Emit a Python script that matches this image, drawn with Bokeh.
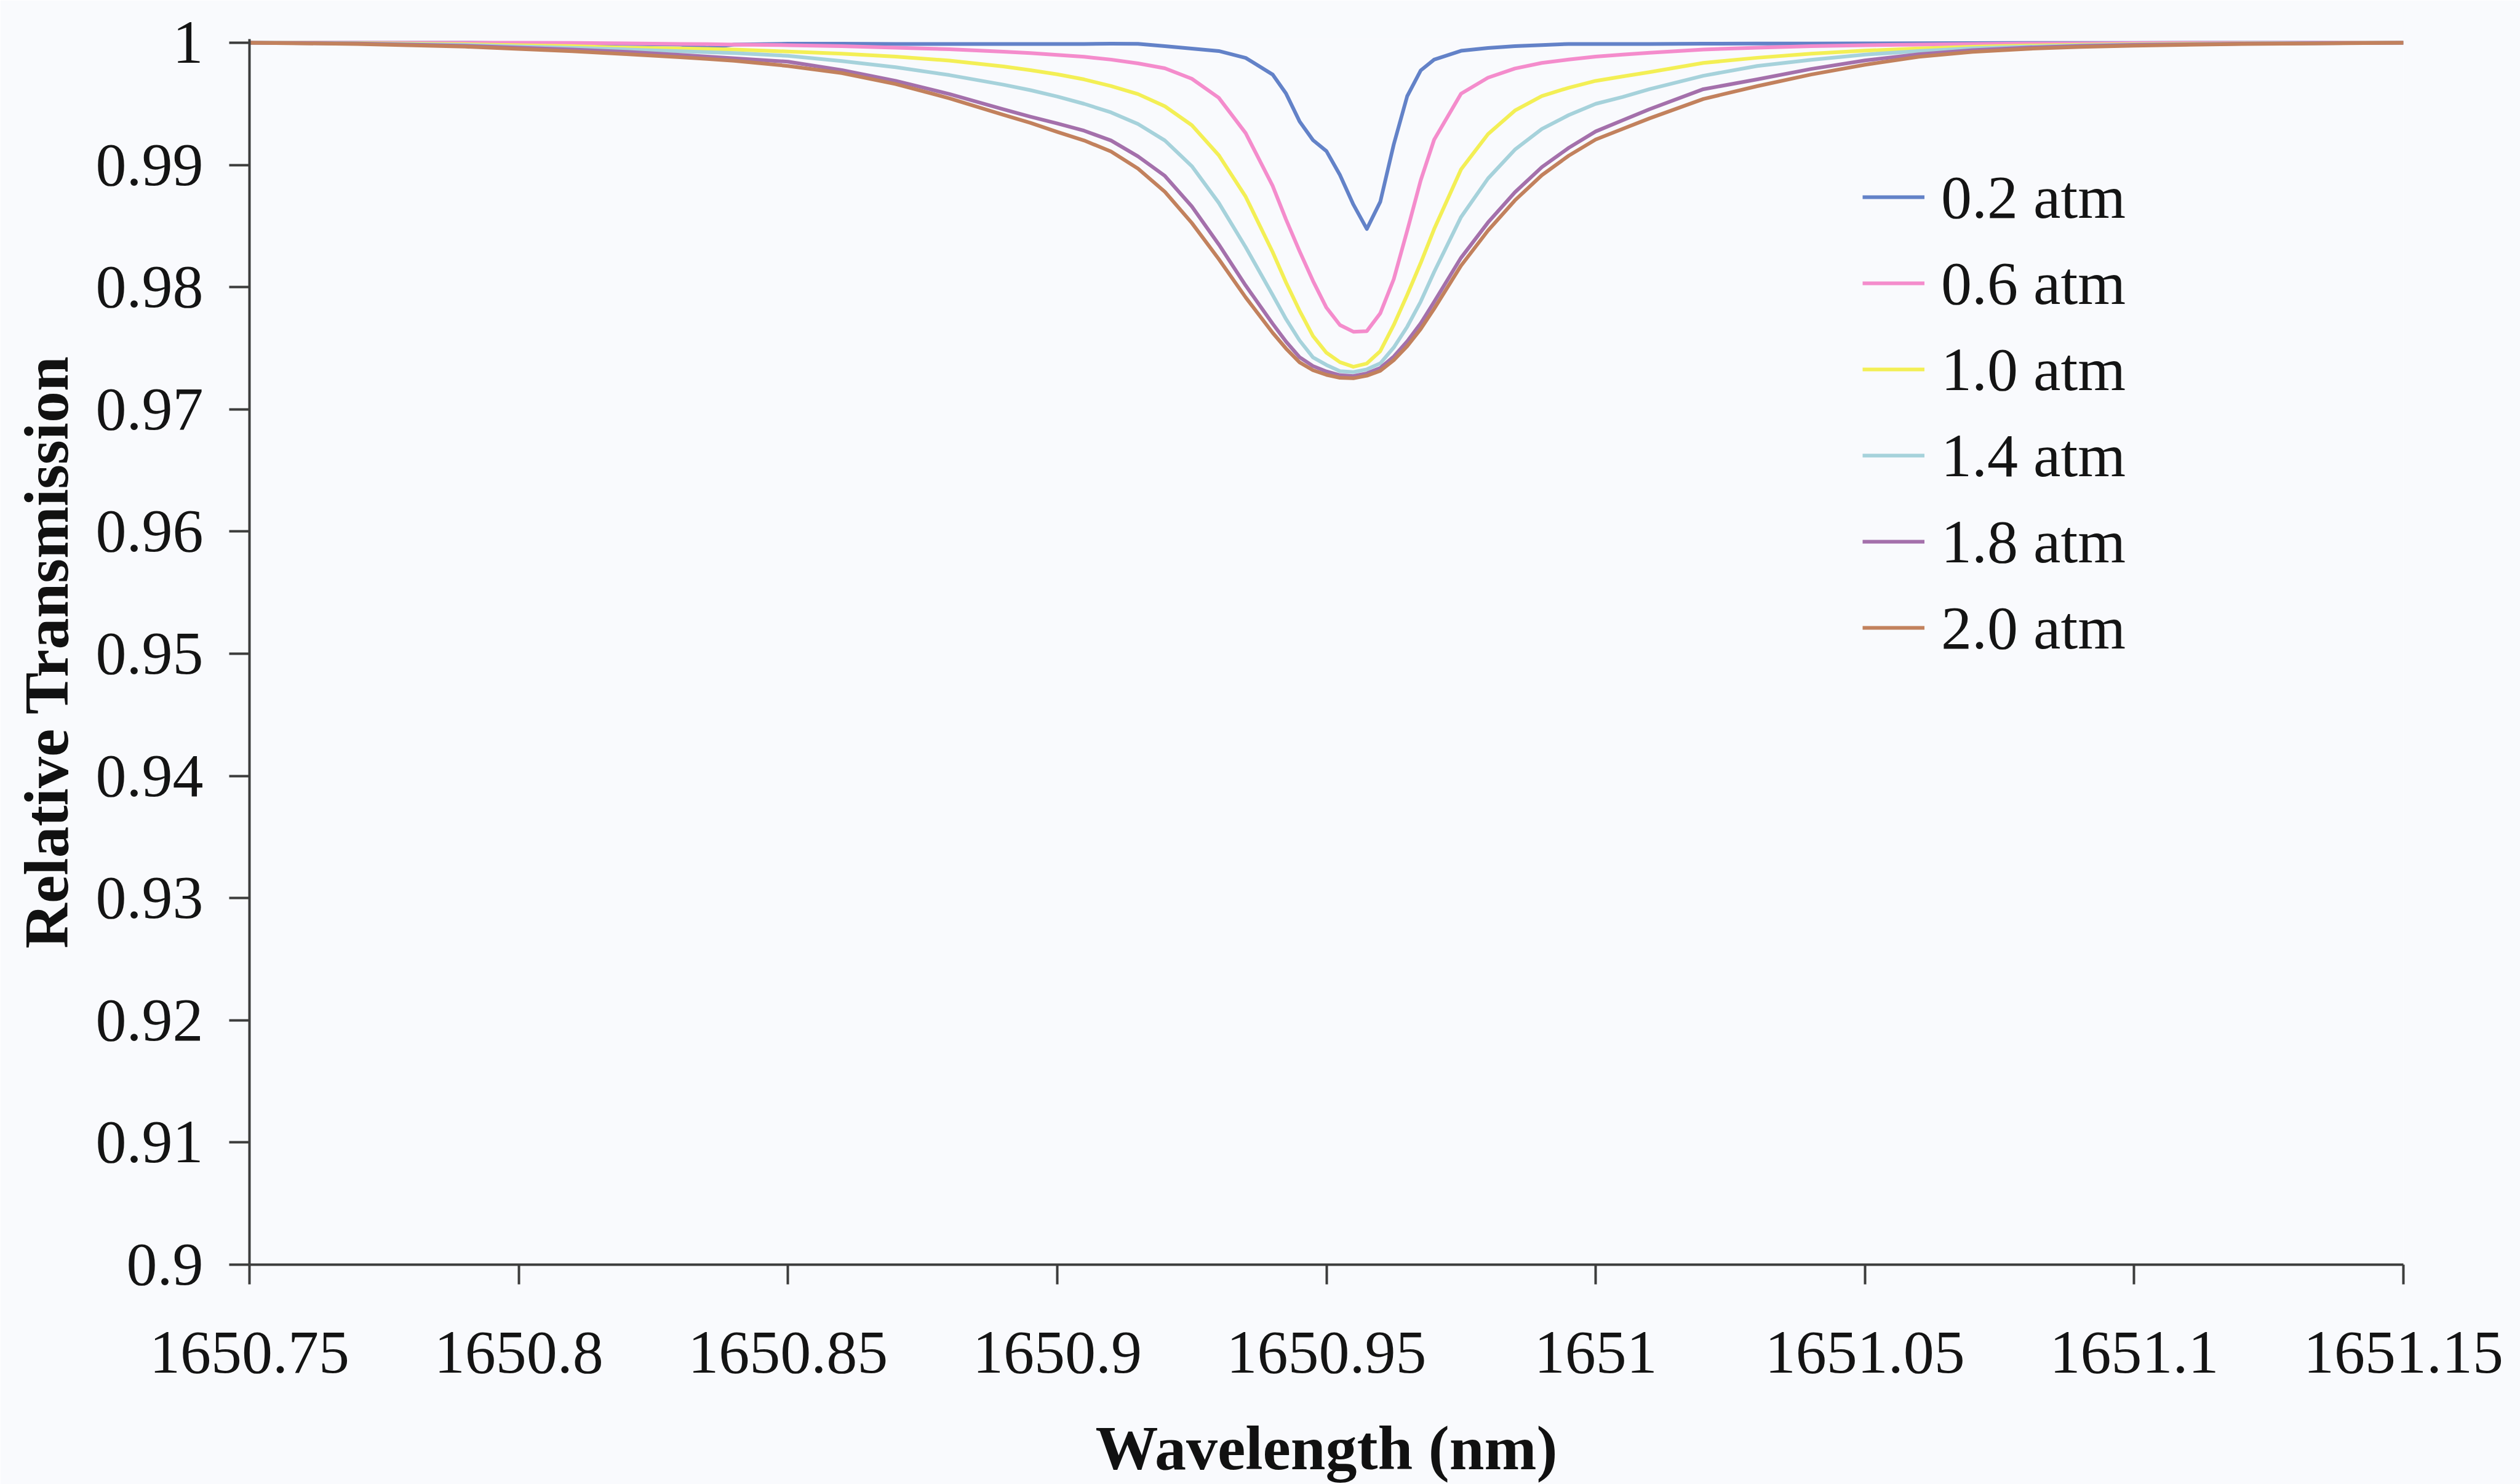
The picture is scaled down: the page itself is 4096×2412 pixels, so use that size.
from bokeh.plotting import figure
from bokeh.models import Range1d, FixedTicker, Legend, LegendItem
from bokeh.embed import file_html
from bokeh.resources import INLINE

# ---------------- data ----------------
WAVELENGTH = [1650.75, 1650.77, 1650.79, 1650.80, 1650.81, 1650.82, 1650.83, 1650.835,
              1650.84, 1650.85, 1650.86, 1650.87, 1650.88, 1650.89, 1650.895, 1650.90,
              1650.905, 1650.91, 1650.915, 1650.92, 1650.925, 1650.93, 1650.935, 1650.94,
              1650.9425, 1650.945, 1650.9475, 1650.95, 1650.9525, 1650.955, 1650.9575, 1650.96,
              1650.9625, 1650.965, 1650.9675, 1650.97, 1650.975, 1650.98, 1650.985, 1650.99,
              1650.995, 1651.00, 1651.005, 1651.01, 1651.02, 1651.03, 1651.04, 1651.05,
              1651.06, 1651.07, 1651.08, 1651.09, 1651.10, 1651.12, 1651.15]

T_02 = [1.0, 1.0, 1.0, 0.99995, 0.99995, 0.9999, 0.99985, 0.9996,
        0.99985, 0.99992, 0.99992, 0.9999, 0.9999, 0.9999, 0.9999, 0.9999,
        0.9999, 0.99992, 0.99991, 0.99972, 0.99952, 0.99932, 0.99876, 0.9974,
        0.99584, 0.99357, 0.99203, 0.99113, 0.98918, 0.98676, 0.98476, 0.98699,
        0.99168, 0.99563, 0.99773, 0.99862, 0.99934, 0.99957, 0.99972, 0.99981,
        0.9999, 0.9999, 0.9999, 0.9999, 0.99992, 0.99993, 0.99994, 0.99995,
        0.99996, 0.99997, 0.99998, 0.99998, 0.99999, 1.0, 1.0]

T_06 = [1.0, 1.0, 1.0, 1.0, 0.99998, 0.99995, 0.9999, 0.99988,
        0.99985, 0.9998, 0.99972, 0.9996, 0.99947, 0.99927, 0.99915, 0.999,
        0.99885, 0.99862, 0.99831, 0.99791, 0.99705, 0.9955, 0.9926, 0.9883,
        0.98553, 0.98295, 0.98051, 0.97832, 0.9769, 0.97635, 0.9764, 0.97786,
        0.98065, 0.98462, 0.98873, 0.99207, 0.99583, 0.99714, 0.99789, 0.99835,
        0.99863, 0.99887, 0.99903, 0.99918, 0.99945, 0.9996, 0.99972, 0.9998,
        0.99985, 0.9999, 0.99993, 0.99995, 0.99997, 0.99999, 1.0]

T_10 = [1.0, 0.99997, 0.99988, 0.9998, 0.99972, 0.9996, 0.99953, 0.9995,
        0.99944, 0.99928, 0.9991, 0.99886, 0.99854, 0.99806, 0.99776, 0.99742,
        0.997, 0.99645, 0.9958, 0.9948, 0.99325, 0.9908, 0.9874, 0.98288,
        0.98037, 0.97808, 0.976, 0.97463, 0.97386, 0.97348, 0.97375, 0.97476,
        0.9769, 0.97937, 0.98197, 0.98475, 0.98964, 0.99252, 0.99445, 0.99564,
        0.99632, 0.99688, 0.99724, 0.99759, 0.99835, 0.99877, 0.9991, 0.99935,
        0.99953, 0.99967, 0.99977, 0.99984, 0.99989, 0.99995, 1.0]

T_14 = [1.0, 0.99995, 0.99982, 0.9997, 0.99958, 0.99945, 0.9993, 0.99923,
        0.99915, 0.99893, 0.9985, 0.998, 0.99735, 0.99657, 0.99612, 0.9956,
        0.995, 0.9943, 0.99335, 0.992, 0.9899, 0.9869, 0.98327, 0.97937,
        0.97738, 0.97564, 0.97425, 0.97363, 0.97312, 0.97305, 0.97327, 0.97376,
        0.97506, 0.97676, 0.97881, 0.98124, 0.98574, 0.98889, 0.99125, 0.99294,
        0.99408, 0.995, 0.99556, 0.9962, 0.9973, 0.9981, 0.9986, 0.99903,
        0.99932, 0.99955, 0.99968, 0.99978, 0.99985, 0.99993, 1.0]

T_18 = [1.0, 0.99993, 0.99975, 0.9996, 0.99945, 0.99925, 0.999, 0.99887,
        0.99873, 0.99845, 0.99776, 0.99688, 0.9958, 0.99455, 0.99395, 0.9934,
        0.9928, 0.992, 0.9907, 0.9891, 0.9866, 0.9835, 0.98013, 0.97701,
        0.97554, 0.97427, 0.97354, 0.9731, 0.97279, 0.97272, 0.97294, 0.97338,
        0.97432, 0.97556, 0.97703, 0.97879, 0.98241, 0.98529, 0.98776, 0.98982,
        0.9914, 0.99274, 0.99365, 0.99456, 0.9962, 0.997, 0.99785, 0.99855,
        0.99905, 0.9994, 0.9996, 0.99973, 0.99982, 0.99992, 1.0]

T_20 = [1.0, 0.9999, 0.99968, 0.9995, 0.9993, 0.99907, 0.99882, 0.99868,
        0.99852, 0.9981, 0.99752, 0.99662, 0.99545, 0.9941, 0.99345, 0.9927,
        0.992, 0.9911, 0.9897, 0.9878, 0.98525, 0.9823, 0.97916, 0.97627,
        0.97497, 0.97385, 0.9732, 0.97282, 0.97258, 0.97254, 0.97275, 0.97315,
        0.97402, 0.97517, 0.97657, 0.97823, 0.98176, 0.98463, 0.9871, 0.98916,
        0.99076, 0.99208, 0.99295, 0.99381, 0.9954, 0.99645, 0.9974, 0.9982,
        0.99885, 0.99925, 0.9995, 0.99966, 0.99976, 0.9999, 1.0]

SERIES_LABELS = ["0.2 atm", "0.6 atm", "1.0 atm", "1.4 atm", "1.8 atm", "2.0 atm"]
SERIES_VALUES = [T_02, T_06, T_10, T_14, T_18, T_20]
SERIES_COLORS = ["#6382c8", "#f48ccc", "#f3ef55", "#a6d2db", "#a470ab", "#c2815d"]

X_TICKS = [1650.75, 1650.8, 1650.85, 1650.9, 1650.95, 1651.0, 1651.05, 1651.1, 1651.15]
X_LABELS = ["1650.75", "1650.8", "1650.85", "1650.9", "1650.95", "1651", "1651.05", "1651.1", "1651.15"]
Y_TICKS = [0.9, 0.91, 0.92, 0.93, 0.94, 0.95, 0.96, 0.97, 0.98, 0.99, 1.0]
Y_LABELS = ["0.9", "0.91", "0.92", "0.93", "0.94", "0.95", "0.96", "0.97", "0.98", "0.99", "1"]

# ---------------- figure ----------------
FONT = "Liberation Serif"
BG = "#f9fafd"

p = figure(width=4096, height=2412, output_backend="svg", toolbar_location=None,
           x_range=Range1d(1650.75, 1651.15), y_range=Range1d(0.9, 1.0003),
           min_border_left=405, min_border_right=190, min_border_top=63, min_border_bottom=357)
p.background_fill_color = BG
p.border_fill_color = BG
p.outline_line_color = None
p.xgrid.visible = False
p.ygrid.visible = False

for ax in (p.xaxis[0], p.yaxis[0]):
    ax.axis_line_color = "#3c3c3c"
    ax.axis_line_width = 4
    ax.major_tick_line_color = "#3c3c3c"
    ax.major_tick_line_width = 4
    ax.major_tick_in = 0
    ax.minor_tick_line_color = None
    ax.major_label_text_font = FONT
    ax.major_label_text_font_size = "100px"
    ax.major_label_text_color = "#141414"
    ax.axis_label_text_font = FONT
    ax.axis_label_text_font_style = "bold"
    ax.axis_label_text_font_size = "102px"
    ax.axis_label_text_color = "#111111"

p.xaxis.ticker = FixedTicker(ticks=X_TICKS)
p.xaxis.major_label_overrides = dict(zip(X_TICKS, X_LABELS))
p.xaxis.major_tick_out = 32
p.xaxis.major_label_standoff = 78
p.xaxis.axis_label = "Wavelength (nm)"
p.xaxis.axis_label_standoff = 63

p.yaxis.ticker = FixedTicker(ticks=Y_TICKS)
p.yaxis.major_label_overrides = dict(zip(Y_TICKS, Y_LABELS))
p.yaxis.major_tick_out = 33
p.yaxis.major_label_standoff = 42
p.yaxis.axis_label = "Relative Transmission"
p.yaxis.axis_label_standoff = 21

items = []
for lab, vals, col in zip(SERIES_LABELS, SERIES_VALUES, SERIES_COLORS):
    r = p.line(WAVELENGTH, vals, line_color=col, line_width=6, line_join="round")
    items.append(LegendItem(label=lab, renderers=[r]))

legend = Legend(items=items, location=(2622, 965), orientation="vertical",
                glyph_width=101, glyph_height=140, label_height=140, label_width=200,
                label_standoff=27, spacing=0, padding=0, margin=0,
                border_line_color=None, background_fill_alpha=0,
                label_text_font=FONT, label_text_font_size="100px",
                label_text_color="#141414")
p.add_layout(legend)

open("out.html", "w").write(file_html(p, INLINE))
